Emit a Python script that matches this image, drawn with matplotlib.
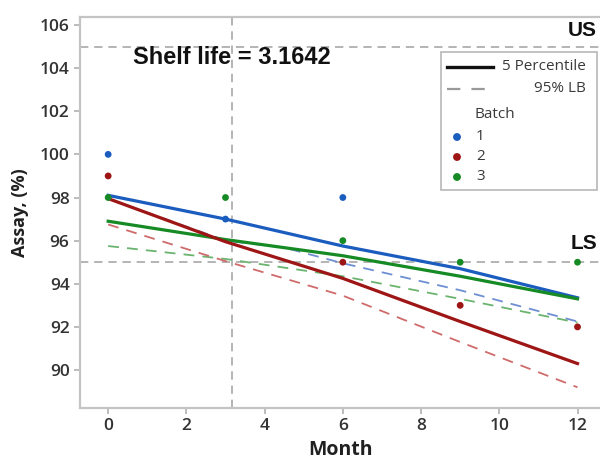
import matplotlib
matplotlib.use("Agg")
import matplotlib.pyplot as plt
from matplotlib.patches import Rectangle
from matplotlib.lines import Line2D

# observed assay values per batch
months = [0, 3, 6, 9, 12]
batch_pts = {
    "1": ([0, 3, 6], [100, 97, 98]),
    "2": ([0, 6, 9, 12], [99, 95, 93, 92]),
    "3": ([0, 3, 6, 9, 12], [98, 98, 96, 95, 95]),
}
# 5 percentile curves (solid)
pct5 = {
    "1": [98.1, 97.0, 95.75, 94.7, 93.35],
    "2": [97.95, 95.95, 94.25, 92.25, 90.3],
    "3": [96.9, 96.05, 95.3, 94.35, 93.3],
}
# 95% lower bound curves (dashed); batch 1 mostly hidden under the others early on
lb_months = {"1": [0, 3, 4.5, 6, 9, 12], "2": months, "3": months}
lb95 = {
    "1": [97.95, 96.0, 95.68, 94.95, 93.7, 92.25],
    "2": [96.75, 95.05, 93.45, 91.3, 89.2],
    "3": [95.75, 95.15, 94.35, 93.3, 92.2],
}
lower_spec = 95
upper_spec = 105
shelf_life = 3.1642

colors = {"1": "#1b5cbf", "2": "#9e1515", "3": "#168a24"}
light = {"1": "#6d8fd2", "2": "#cf6b6b", "3": "#6ab46f"}

fig = plt.figure(figsize=(6.0, 4.62), dpi=100)
ax = fig.add_axes([80 / 600, 54 / 462, 520 / 600, 391 / 462])

ref = dict(color="#a8a8a8", lw=1.2, dashes=(5, 3.5), zorder=1)
ax.axhline(upper_spec, **ref)
ax.axhline(lower_spec, **ref)
ax.axvline(shelf_life, **ref)

for b in ["1", "3", "2"]:
    ax.plot(lb_months[b], lb95[b], color=light[b], lw=1.3, dashes=(6, 4.5), zorder=2)
for b in ["1", "3", "2"]:
    ax.plot(months, pct5[b], color=colors[b], lw=2.3, zorder=3)
for b in ["1", "2", "3"]:
    xs, ys = batch_pts[b]
    ax.scatter(xs, ys, s=24, color=colors[b], edgecolors="none", zorder=4)

ax.set_xlim(-0.72, 12.575)
ax.set_ylim(88.24, 106.37)
ax.set_xticks([0, 2, 4, 6, 8, 10, 12])
ax.set_yticks([90, 92, 94, 96, 98, 100, 102, 104, 106])

for s in ["left", "bottom", "top"]:
    ax.spines[s].set_color("#c4c4c4")
    ax.spines[s].set_linewidth(1.6)
ax.spines["right"].set_visible(False)
ax.tick_params(colors="#b0b0b0", length=4, width=1.2, labelcolor="#333333")
for lab in ax.get_xticklabels() + ax.get_yticklabels():
    lab.set_fontfamily("Open Sans")
    lab.set_fontweight("semibold")
    lab.set_fontsize(12.5)

ax.set_xlabel("Month", fontfamily="Open Sans", fontweight="bold",
              fontsize=14, color="#202020", labelpad=4)
ax.set_ylabel("Assay, (%)", fontfamily="Open Sans", fontweight="bold",
              fontsize=13, color="#202020", labelpad=8)

ax.text(0.63, 104.47, f"Shelf life = {shelf_life}", fontfamily="Liberation Sans",
        fontweight="bold", fontsize=17, va="center", ha="left", color="#111111")
ax.text(0.994, 0.965, "US", transform=ax.transAxes, fontfamily="Liberation Sans",
        fontweight="bold", fontsize=15, ha="right", va="center", color="#111111")
ax.text(0.994, 0.42, "LS", transform=ax.transAxes, fontfamily="Liberation Sans",
        fontweight="bold", fontsize=15, ha="right", va="center", color="#111111")

# legend box drawn in axes coordinates
def axc(px, py):
    return ((px - 80) / 520, (408 - py) / 391)

x0, y0 = axc(441, 190)
x1, y1 = axc(597, 52)
ax.add_patch(Rectangle((x0, y0), x1 - x0, y1 - y0, transform=ax.transAxes,
                       facecolor="white", edgecolor="#b8b8b8", lw=1.2, zorder=5))
lf = dict(fontfamily="Open Sans", fontsize=11, color="#3a3a3a", zorder=6,
          transform=ax.transAxes, va="center")
a, b_ = axc(447, 67), axc(493, 67)
ax.add_line(Line2D([a[0], b_[0]], [a[1], b_[1]], color="#111111", lw=2.4,
                   transform=ax.transAxes, zorder=6))
ax.text(*axc(586, 67), "5 Percentile", ha="right", **lf)
a, b_ = axc(447, 89), axc(488, 89)
ax.add_line(Line2D([a[0], b_[0]], [a[1], b_[1]], color="#9a9a9a", lw=1.6,
                   dashes=(6, 5), transform=ax.transAxes, zorder=6))
ax.text(*axc(586, 89), "95% LB", ha="right", **lf)
ax.text(*axc(475, 115), "Batch", ha="left", **lf)
for i, b in enumerate(["1", "2", "3"]):
    py = 137 + 20 * i
    ax.scatter(*axc(457, py), s=32, color=colors[b], edgecolors="none",
               transform=ax.transAxes, zorder=6, clip_on=False)
    ax.text(*axc(476, py), b, ha="left", **lf)

fig.savefig("out.png", dpi=100)
